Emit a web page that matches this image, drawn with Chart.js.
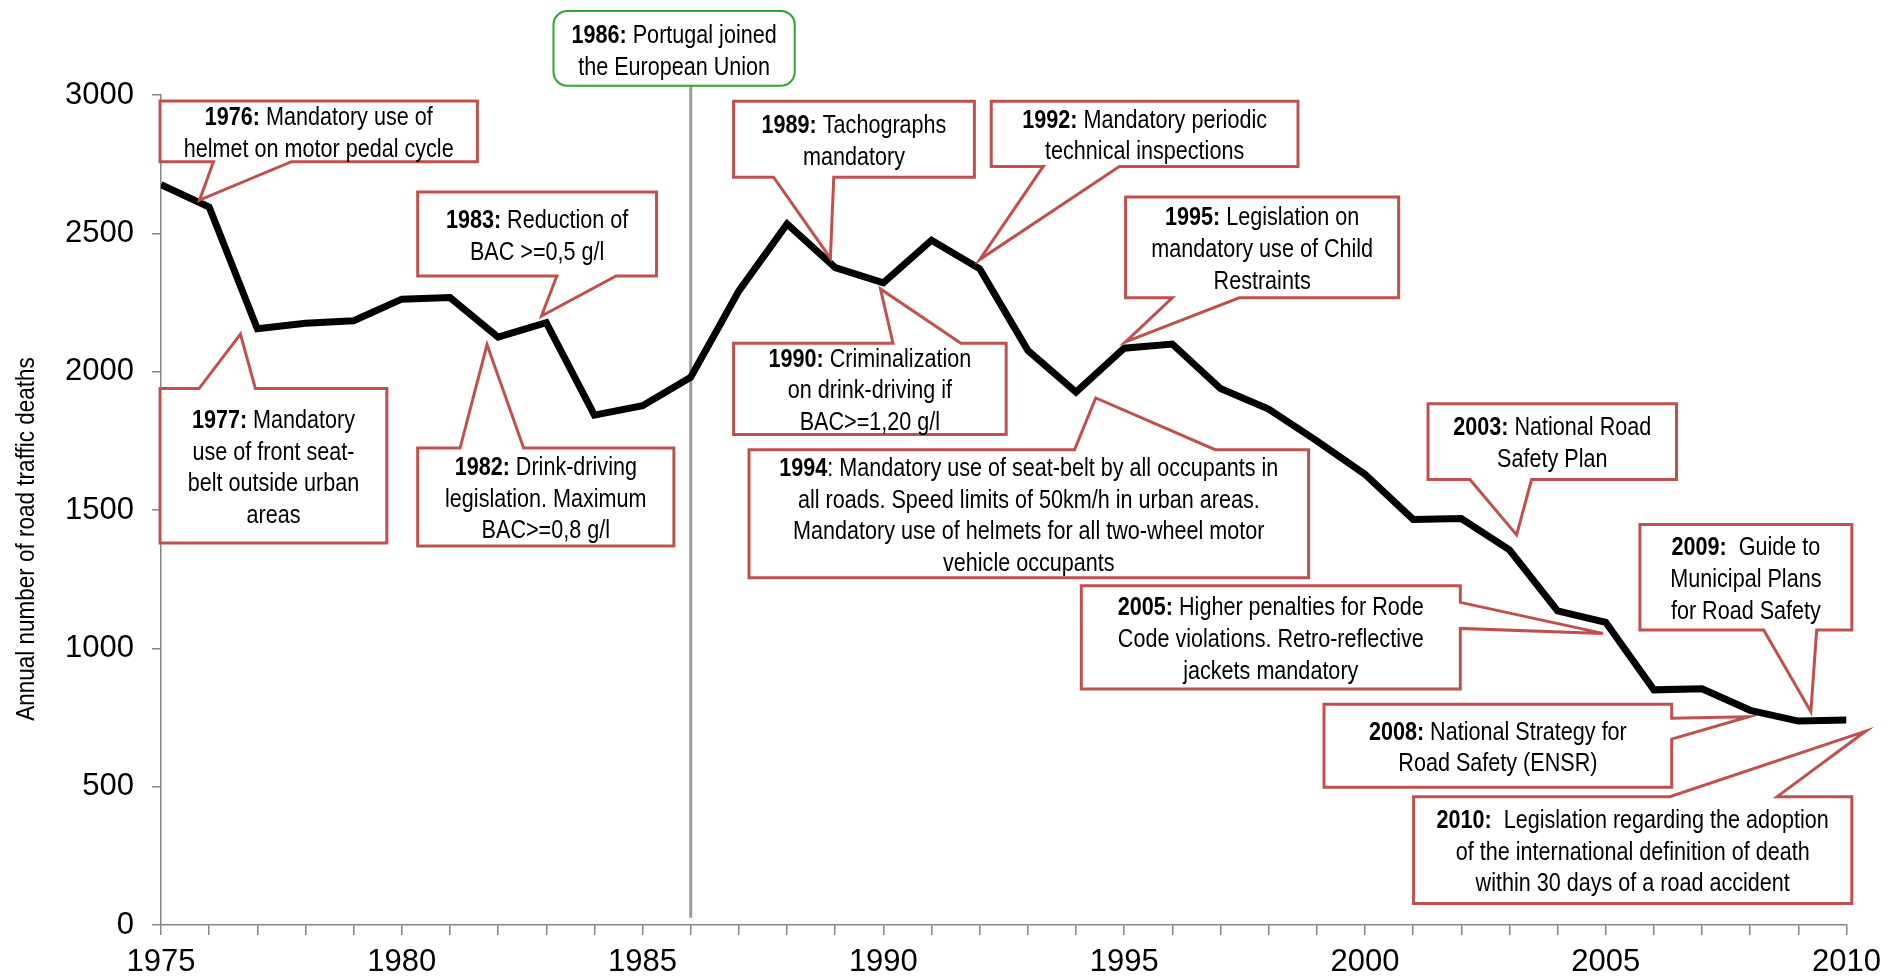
<!DOCTYPE html>
<html>
<head>
<meta charset="utf-8">
<script src="https://cdn.jsdelivr.net/npm/chart.js@4.4.1/dist/chart.umd.min.js"></script>
<style>
  html, body { margin: 0; padding: 0; background: #fff; }
</style>
</head>
<body>
<canvas id="deaths" width="1890" height="980"></canvas>
<script>
// road traffic deaths in Portugal
const years = [1975, 1976, 1977, 1978, 1979, 1980, 1981, 1982, 1983, 1984, 1985, 1986,
  1987, 1988, 1989, 1990, 1991, 1992, 1993, 1994, 1995, 1996, 1997, 1998, 1999, 2000,
  2001, 2002, 2003, 2004, 2005, 2006, 2007, 2008, 2009, 2010];
const deaths = [2676, 2595, 2155, 2175, 2184, 2262, 2268, 2125, 2177, 1843, 1877, 1980,
  2292, 2534, 2376, 2321, 2475, 2372, 2077, 1926, 2085, 2100, 1939, 1865, 1750, 1629,
  1466, 1469, 1356, 1135, 1094, 850, 854, 776, 737, 741];
const yTicks = [0, 500, 1000, 1500, 2000, 2500, 3000];
const xLabelYears = [1975, 1980, 1985, 1990, 1995, 2000, 2005, 2010];
const yTitle = 'Annual number of road traffic deaths';

// EU accession marker
const euYear = 1986;
const euBox = { box: [1983.15, 1988.16, 3304, 3033], year: '1986:', lines: [' Portugal joined', 'the European Union'] };

// callouts: box = [fromYear, toYear, topValue, bottomValue]; base = where the pointer leaves the box
const callouts = [
  { year: '1976:', lines: [' Mandatory use of', 'helmet on motor pedal cycle'], box: [1974.98, 1981.57, 2978, 2759], side: 'bottom', base: [1976.09, 1977.71], tip: [1975.80, 2620] },
  { year: '1977:', lines: [' Mandatory', 'use of front seat-', 'belt outside urban', 'areas'], box: [1974.98, 1979.69, 1939, 1381], side: 'top', base: [1975.79, 1976.96], tip: [1976.65, 2136] },
  { year: '1983:', lines: [' Reduction of', 'BAC >=0,5 g/l'], box: [1980.33, 1985.29, 2649, 2346], side: 'bottom', base: [1983.22, 1984.45], tip: [1982.90, 2201] },
  { year: '1982:', lines: [' Drink-driving', 'legislation. Maximum', 'BAC>=0,8 g/l'], box: [1980.33, 1985.65, 1724, 1370], side: 'top', base: [1981.21, 1982.53], tip: [1981.77, 2098] },
  { year: '1989:', lines: [' Tachographs', 'mandatory'], box: [1986.89, 1991.89, 2977, 2703], side: 'bottom', base: [1987.72, 1988.97], tip: [1988.90, 2410] },
  { year: '1992:', lines: [' Mandatory periodic', 'technical inspections'], box: [1992.24, 1998.61, 2977, 2742], side: 'bottom', base: [1993.32, 1994.90], tip: [1992.00, 2405] },
  { year: '1990:', lines: [' Criminalization', 'on drink-driving if', 'BAC>=1,20 g/l'], box: [1986.89, 1992.55, 2103, 1773], side: 'top', base: [1990.20, 1991.61], tip: [1989.94, 2299] },
  { year: '1995:', lines: [' Legislation on', 'mandatory use of Child', 'Restraints'], box: [1995.03, 2000.70, 2631, 2267], side: 'bottom', base: [1996.00, 1997.39], tip: [1995.03, 2108] },
  { year: '1994', lines: [': Mandatory use of seat-belt by all occupants in', 'all roads. Speed limits of 50km/h in urban areas.', 'Mandatory use of helmets for all two-wheel motor', 'vehicle occupants'], box: [1987.21, 1998.83, 1718, 1255], side: 'top', base: [1993.97, 1996.89], tip: [1994.41, 1905] },
  { year: '2003:', lines: [' National Road', 'Safety Plan'], box: [2001.31, 2006.47, 1884, 1610], side: 'bottom', base: [2002.18, 2003.46], tip: [2003.15, 1410] },
  { year: '2005:', lines: [' Higher penalties for Rode', 'Code violations. Retro-reflective', 'jackets mandatory'], box: [1994.11, 2001.98, 1226, 853], side: 'right', base: [1166, 1072], tip: [2004.94, 1054] },
  { year: '2009:', lines: ['  Guide to', 'Municipal Plans', 'for Road Safety'], box: [2005.71, 2010.11, 1448, 1066], side: 'bottom', base: [2008.28, 2009.38], tip: [2009.26, 771] },
  { year: '2008:', lines: [' National Strategy for', 'Road Safety (ENSR)'], box: [1999.15, 2006.37, 798, 498], side: 'right', base: [747, 672], tip: [2007.97, 753] },
  { year: '2010:', lines: ['  Legislation regarding the adoption', 'of the international definition of death', 'within 30 days of a road accident'], box: [2001.01, 2010.11, 464, 78], side: 'top', base: [2006.33, 2008.56], tip: [2010.40, 701] }
];

const FONT = '"Liberation Sans", Arial, sans-serif';
const LINE_H = 31.7;
const SX = 0.83; // narrow look of the callout lettering

function drawText(ctx, cx, cy, c) {
  ctx.save();
  ctx.fillStyle = '#000';
  ctx.textBaseline = 'middle';
  ctx.textAlign = 'left';
  const n = c.lines.length;
  const put = (s, x, y) => {
    ctx.save();
    ctx.translate(x, y);
    ctx.scale(SX, 1);
    ctx.fillText(s, 0, 0);
    ctx.restore();
  };
  c.lines.forEach((ln, i) => {
    const yy = cy + 2.5 + (i - (n - 1) / 2) * LINE_H;
    if (i === 0) {
      ctx.font = 'bold 26px ' + FONT;
      const wb = ctx.measureText(c.year).width * SX;
      ctx.font = '26px ' + FONT;
      const wr = ctx.measureText(ln).width * SX;
      const x0 = cx - (wb + wr) / 2;
      ctx.font = 'bold 26px ' + FONT;
      put(c.year, x0, yy);
      ctx.font = '26px ' + FONT;
      put(ln, x0 + wb, yy);
    } else {
      ctx.font = '26px ' + FONT;
      const w = ctx.measureText(ln).width * SX;
      put(ln, cx - w / 2, yy);
    }
  });
  ctx.restore();
}

function drawCallout(ctx, xs, ys, c) {
  const L = xs.getPixelForValue(c.box[0]), R = xs.getPixelForValue(c.box[1]);
  const T = ys.getPixelForValue(c.box[2]), B = ys.getPixelForValue(c.box[3]);
  const tx = xs.getPixelForValue(c.tip[0]), ty = ys.getPixelForValue(c.tip[1]);
  const sc = (c.side === 'top' || c.side === 'bottom') ? xs : ys;
  const p = c.base.map(v => sc.getPixelForValue(v)).sort((a, b) => a - b);
  ctx.save();
  ctx.beginPath();
  ctx.moveTo(L, T);
  if (c.side === 'top') { ctx.lineTo(p[0], T); ctx.lineTo(tx, ty); ctx.lineTo(p[1], T); }
  ctx.lineTo(R, T);
  if (c.side === 'right') { ctx.lineTo(R, p[0]); ctx.lineTo(tx, ty); ctx.lineTo(R, p[1]); }
  ctx.lineTo(R, B);
  if (c.side === 'bottom') { ctx.lineTo(p[1], B); ctx.lineTo(tx, ty); ctx.lineTo(p[0], B); }
  ctx.lineTo(L, B);
  if (c.side === 'left') { ctx.lineTo(L, p[1]); ctx.lineTo(tx, ty); ctx.lineTo(L, p[0]); }
  ctx.closePath();
  ctx.fillStyle = '#fff';
  ctx.fill();
  ctx.lineWidth = 3;
  ctx.lineJoin = 'miter';
  ctx.strokeStyle = '#c0504d';
  ctx.stroke();
  ctx.restore();
  drawText(ctx, (L + R) / 2, (T + B) / 2, c);
}

const annotations = {
  id: 'annotations',
  beforeDatasetsDraw(chart) {
    const { ctx, scales: { x, y } } = chart;
    const xp = x.getPixelForValue(euYear);
    ctx.save();
    ctx.strokeStyle = '#9a9a9a';
    ctx.lineWidth = 3;
    ctx.beginPath();
    ctx.moveTo(xp, y.getPixelForValue(euBox.box[3]));
    ctx.lineTo(xp, y.getPixelForValue(26));
    ctx.stroke();
    ctx.restore();
  },
  afterDatasetsDraw(chart) {
    const { ctx, scales: { x, y } } = chart;
    callouts.forEach(c => drawCallout(ctx, x, y, c));

    // green EU box
    const L = x.getPixelForValue(euBox.box[0]), R = x.getPixelForValue(euBox.box[1]);
    const T = y.getPixelForValue(euBox.box[2]), B = y.getPixelForValue(euBox.box[3]);
    ctx.save();
    ctx.beginPath();
    ctx.roundRect(L, T, R - L, B - T, 14);
    ctx.fillStyle = '#fff';
    ctx.fill();
    ctx.lineWidth = 2;
    ctx.strokeStyle = '#2ea52e';
    ctx.stroke();
    ctx.restore();
    drawText(ctx, (L + R) / 2, (T + B) / 2 + 1, euBox);

    // y axis title
    ctx.save();
    ctx.translate(27, 539);
    ctx.rotate(-Math.PI / 2);
    ctx.scale(1, 1.15);
    ctx.font = '22.5px ' + FONT;
    ctx.fillStyle = '#000';
    ctx.textAlign = 'center';
    ctx.textBaseline = 'middle';
    ctx.fillText(yTitle, 0, 0);
    ctx.restore();
  }
};

const axisGrey = '#868686';

new Chart(document.getElementById('deaths'), {
  type: 'line',
  data: {
    datasets: [{
      label: 'Road traffic deaths',
      data: years.map((yr, i) => ({ x: yr, y: deaths[i] })),
      borderColor: '#000',
      borderWidth: 7,
      pointRadius: 0,
      tension: 0,
      borderJoinStyle: 'miter',
      fill: false
    }]
  },
  options: {
    responsive: false,
    animation: false,
    layout: { padding: { left: 0, right: 40, top: 95, bottom: 0 } },
    plugins: { legend: { display: false }, tooltip: { enabled: false } },
    scales: {
      x: {
        type: 'linear',
        min: 1975,
        max: 2010,
        afterFit(s) { s.height = 55; },
        grid: { display: true, drawOnChartArea: false, drawTicks: true, tickLength: 10, color: axisGrey, lineWidth: 1.5 },
        border: { display: true, color: axisGrey, width: 1.5 },
        ticks: {
          stepSize: 1,
          autoSkip: false,
          maxRotation: 0,
          padding: 9,
          color: '#000',
          font: { family: FONT, size: 31 },
          callback: v => xLabelYears.includes(v) ? String(v) : ''
        }
      },
      y: {
        min: yTicks[0],
        max: yTicks[yTicks.length - 1],
        afterFit(s) { s.width = 161; },
        afterBuildTicks(s) { s.ticks = yTicks.map(v => ({ value: v })); },
        grid: { display: true, drawOnChartArea: false, drawTicks: true, tickLength: 9, color: axisGrey, lineWidth: 1.5 },
        border: { display: true, color: axisGrey, width: 1.5 },
        ticks: {
          padding: 18,
          color: '#000',
          font: { family: FONT, size: 31 },
          callback: v => String(v)
        }
      }
    }
  },
  plugins: [annotations]
});
</script>
</body>
</html>
